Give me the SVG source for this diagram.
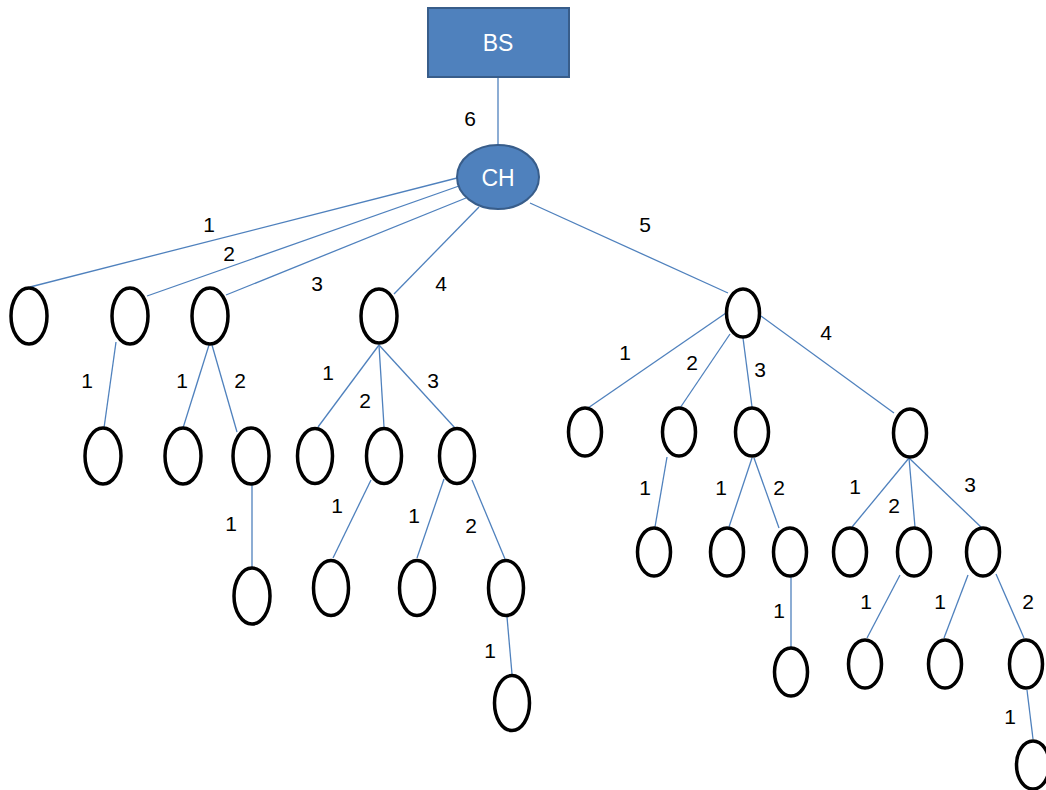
<svg xmlns="http://www.w3.org/2000/svg" width="1046" height="790" viewBox="0 0 1046 790">
  <style>
    .edge { stroke: #4F81BD; stroke-width: 1.3; fill: none; }
    .leaf { fill: #FFFFFF; stroke: #000000; stroke-width: 3.5; }
    .lbl { font-family: "Liberation Sans", "Open Sans", sans-serif; font-size: 21px; fill: #000000; text-anchor: middle; }
    .head { fill: #4F81BD; stroke: #385D8A; stroke-width: 2; }
    .headtxt { font-family: "Liberation Sans", "Open Sans", sans-serif; font-size: 23px; fill: #FFFFFF; text-anchor: middle; }
  </style>

  <!-- connectors -->
  <g id="connectors">
    <line class="edge" x1="498" y1="77" x2="498" y2="145"/>
    <!-- cluster head to first tier -->
    <line class="edge" x1="457" y1="178" x2="30" y2="287"/>
    <line class="edge" x1="459" y1="186" x2="147" y2="296"/>
    <line class="edge" x1="466" y1="198" x2="226" y2="295"/>
    <line class="edge" x1="479" y1="207" x2="394" y2="294"/>
    <line class="edge" x1="530" y1="203" x2="728" y2="293"/>
    <!-- left branches -->
    <line class="edge" x1="116" y1="342" x2="104" y2="428"/>
    <line class="edge" x1="209" y1="345" x2="183" y2="428"/>
    <line class="edge" x1="212" y1="345" x2="237" y2="432"/>
    <line class="edge" x1="252" y1="485" x2="252" y2="567"/>
    <line class="edge" x1="379" y1="345" x2="318" y2="427"/>
    <line class="edge" x1="379" y1="345" x2="384" y2="427"/>
    <line class="edge" x1="379" y1="345" x2="455" y2="428"/>
    <line class="edge" x1="371" y1="480" x2="333" y2="558"/>
    <line class="edge" x1="444" y1="479" x2="417" y2="558"/>
    <line class="edge" x1="472" y1="480" x2="505" y2="559"/>
    <line class="edge" x1="507" y1="617" x2="512" y2="674"/>
    <!-- right branches -->
    <line class="edge" x1="726" y1="313" x2="588" y2="408"/>
    <line class="edge" x1="730" y1="334" x2="680" y2="408"/>
    <line class="edge" x1="743" y1="338" x2="752" y2="407"/>
    <line class="edge" x1="761" y1="316" x2="894" y2="413"/>
    <line class="edge" x1="667" y1="457" x2="655" y2="527"/>
    <line class="edge" x1="752" y1="458" x2="729" y2="527"/>
    <line class="edge" x1="754" y1="458" x2="779" y2="528"/>
    <line class="edge" x1="791" y1="577" x2="791" y2="647"/>
    <line class="edge" x1="909" y1="458" x2="852" y2="527"/>
    <line class="edge" x1="909" y1="458" x2="915" y2="527"/>
    <line class="edge" x1="909" y1="458" x2="982" y2="528"/>
    <line class="edge" x1="900" y1="575" x2="867" y2="638"/>
    <line class="edge" x1="968" y1="575" x2="944" y2="638"/>
    <line class="edge" x1="996" y1="574" x2="1024" y2="638"/>
    <line class="edge" x1="1027" y1="690" x2="1033" y2="739"/>
  </g>

  <!-- connector weights -->
  <g id="weights">
    <text class="lbl" x="470" y="126">6</text>
    <text class="lbl" x="209" y="232">1</text>
    <text class="lbl" x="229" y="261">2</text>
    <text class="lbl" x="317" y="291">3</text>
    <text class="lbl" x="441" y="291">4</text>
    <text class="lbl" x="645" y="232">5</text>
    <text class="lbl" x="87" y="388">1</text>
    <text class="lbl" x="182" y="388">1</text>
    <text class="lbl" x="240" y="388">2</text>
    <text class="lbl" x="231" y="531">1</text>
    <text class="lbl" x="328" y="380">1</text>
    <text class="lbl" x="365" y="408">2</text>
    <text class="lbl" x="433" y="388">3</text>
    <text class="lbl" x="337" y="513">1</text>
    <text class="lbl" x="414" y="523">1</text>
    <text class="lbl" x="471" y="533">2</text>
    <text class="lbl" x="490" y="658">1</text>
    <text class="lbl" x="625" y="360">1</text>
    <text class="lbl" x="692" y="370">2</text>
    <text class="lbl" x="760" y="377">3</text>
    <text class="lbl" x="826" y="340">4</text>
    <text class="lbl" x="645" y="495">1</text>
    <text class="lbl" x="721" y="495">1</text>
    <text class="lbl" x="779" y="495">2</text>
    <text class="lbl" x="779" y="618">1</text>
    <text class="lbl" x="855" y="494">1</text>
    <text class="lbl" x="894" y="513">2</text>
    <text class="lbl" x="970" y="492">3</text>
    <text class="lbl" x="866" y="609">1</text>
    <text class="lbl" x="940" y="609">1</text>
    <text class="lbl" x="1028" y="609">2</text>
    <text class="lbl" x="1010" y="724">1</text>
  </g>

  <!-- base station and cluster head -->
  <g id="bs">
    <rect class="head" x="428" y="8" width="141" height="69"/>
    <text class="headtxt" x="498" y="51">BS</text>
  </g>
  <g id="ch">
    <ellipse class="head" cx="498" cy="177" rx="41" ry="32"/>
    <text class="headtxt" x="498" y="186">CH</text>
  </g>

  <!-- sensor nodes, left part -->
  <g id="n1"><ellipse class="leaf" cx="29" cy="316" rx="18" ry="28"/></g>
  <g id="n2"><ellipse class="leaf" cx="130" cy="316" rx="18" ry="28"/></g>
  <g id="n3"><ellipse class="leaf" cx="210" cy="316" rx="18" ry="28"/></g>
  <g id="n4"><ellipse class="leaf" cx="379" cy="316" rx="18" ry="27"/></g>
  <g id="n2a"><ellipse class="leaf" cx="103" cy="456" rx="18" ry="28"/></g>
  <g id="n3a"><ellipse class="leaf" cx="183" cy="456" rx="18" ry="28"/></g>
  <g id="n3b"><ellipse class="leaf" cx="251" cy="456" rx="18" ry="28"/></g>
  <g id="n3b1"><ellipse class="leaf" cx="252" cy="596" rx="18" ry="28"/></g>
  <g id="n4a"><ellipse class="leaf" cx="315" cy="456" rx="17.5" ry="27.5"/></g>
  <g id="n4b"><ellipse class="leaf" cx="384" cy="456" rx="17.5" ry="27.5"/></g>
  <g id="n4c"><ellipse class="leaf" cx="457" cy="456" rx="17.5" ry="27.5"/></g>
  <g id="n4b1"><ellipse class="leaf" cx="331" cy="588" rx="17.5" ry="27.5"/></g>
  <g id="n4c1"><ellipse class="leaf" cx="417" cy="588" rx="17.5" ry="27.5"/></g>
  <g id="n4c2"><ellipse class="leaf" cx="506" cy="588" rx="17.5" ry="27.5"/></g>
  <g id="n4c2a"><ellipse class="leaf" cx="512" cy="703" rx="17.5" ry="27.5"/></g>

  <!-- sensor nodes, right part -->
  <g id="n5"><ellipse class="leaf" cx="743" cy="313" rx="16.5" ry="24"/></g>
  <g id="n5a"><ellipse class="leaf" cx="585" cy="432" rx="16.5" ry="24"/></g>
  <g id="n5b"><ellipse class="leaf" cx="679" cy="432" rx="16.5" ry="24"/></g>
  <g id="n5c"><ellipse class="leaf" cx="752" cy="432" rx="16.5" ry="24"/></g>
  <g id="n5d"><ellipse class="leaf" cx="910" cy="433" rx="16.5" ry="24"/></g>
  <g id="n5b1"><ellipse class="leaf" cx="654" cy="552" rx="16.5" ry="24"/></g>
  <g id="n5c1"><ellipse class="leaf" cx="727" cy="552" rx="16.5" ry="24"/></g>
  <g id="n5c2"><ellipse class="leaf" cx="790" cy="552" rx="16.5" ry="24"/></g>
  <g id="n5c2a"><ellipse class="leaf" cx="791" cy="672" rx="16.5" ry="24"/></g>
  <g id="n5d1"><ellipse class="leaf" cx="850" cy="552" rx="16.5" ry="24"/></g>
  <g id="n5d2"><ellipse class="leaf" cx="914" cy="552" rx="16.5" ry="24"/></g>
  <g id="n5d3"><ellipse class="leaf" cx="983" cy="552" rx="16.5" ry="24"/></g>
  <g id="n5d2a"><ellipse class="leaf" cx="865" cy="664" rx="16.5" ry="24"/></g>
  <g id="n5d3a"><ellipse class="leaf" cx="945" cy="664" rx="16.5" ry="24"/></g>
  <g id="n5d3b"><ellipse class="leaf" cx="1026" cy="664" rx="16.5" ry="24"/></g>
  <g id="n5d3b1"><ellipse class="leaf" cx="1033" cy="765" rx="16.5" ry="24"/></g>
</svg>
